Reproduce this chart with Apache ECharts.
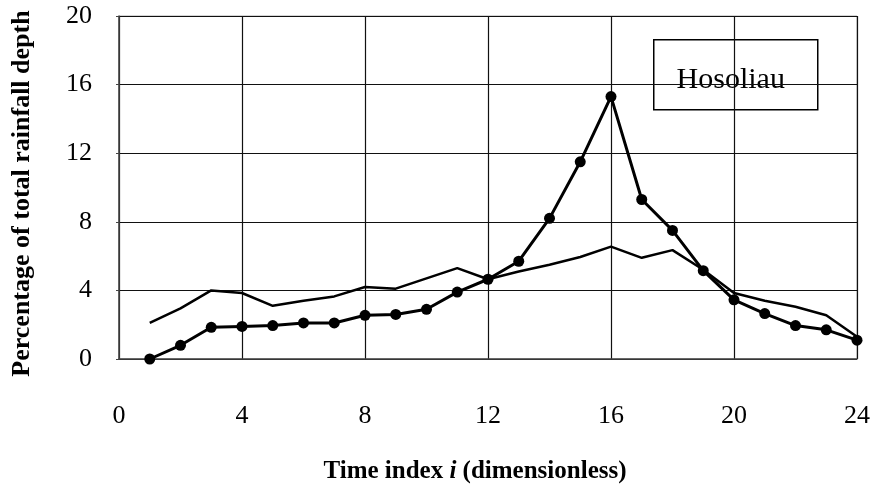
<!DOCTYPE html>
<html>
<head>
<meta charset="utf-8">
<script src="https://cdn.jsdelivr.net/npm/echarts@6/dist/echarts.min.js"></script>
<style>
html, body { margin: 0; padding: 0; background: #fff; }
#main { width: 874px; height: 492px; }
</style>
</head>
<body>
<div id="main"></div>
<script>
// time index i
var timeIndex = [1, 2, 3, 4, 5, 6, 7, 8, 9, 10, 11, 12, 13, 14, 15, 16, 17, 18, 19, 20, 21, 22, 23, 24];
// percentage of total rainfall depth, curve with dots
var dotValues = [0.0, 0.8, 1.85, 1.9, 1.95, 2.1, 2.1, 2.55, 2.6, 2.9, 3.9, 4.65, 5.7, 8.2, 11.5, 15.3, 9.3, 7.5, 5.15, 3.45, 2.65, 1.95, 1.7, 1.1];
// plain curve
var lineValues = [2.1, 2.95, 4.0, 3.85, 3.1, 3.4, 3.65, 4.2, 4.1, 4.7, 5.3, 4.65, 5.1, 5.5, 5.95, 6.55, 5.9, 6.35, 5.2, 3.85, 3.4, 3.05, 2.55, 1.3];
var xTicks = [0, 4, 8, 12, 16, 20, 24];
var yTicks = [0, 4, 8, 12, 16, 20];

function pairs(vals) {
	var out = [];
	for (var k = 0; k < timeIndex.length; k++) {
		out.push([timeIndex[k], vals[k]]);
	}
	return out;
}

var dom = document.getElementById("main");
var myChart = echarts.init(dom);
var serif = '"Liberation Serif", "Times New Roman", serif';

var option = {
	animation: false,
	backgroundColor: '#fff',
	grid: {
		left: 119,
		top: 16,
		right: 17,
		bottom: 133,
		show: true,
		borderColor: '#aaa',
		borderWidth: 1
	},
	xAxis: {
		type: 'value',
		min: xTicks[0],
		max: xTicks[xTicks.length - 1],
		interval: 4,
		name: 'Time index {it|i} (dimensionless)',
		nameLocation: 'middle',
		nameGap: 100,
		nameTextStyle: {
			fontFamily: serif,
			fontWeight: 'bold',
			fontSize: 25,
			color: '#000',
			padding: [0, 26, 0, 0],
			rich: {
				it: { fontFamily: serif, fontWeight: 'bold', fontStyle: 'italic', fontSize: 25, color: '#000' }
			}
		},
		axisLine: { show: true, lineStyle: { color: '#444', width: 1.5 } },
		axisTick: { show: false },
		axisLabel: { margin: 44, fontFamily: serif, fontSize: 26, color: '#000' },
		splitLine: { show: true, lineStyle: { color: '#111', width: 1.2 } }
	},
	yAxis: {
		type: 'value',
		min: yTicks[0],
		max: yTicks[yTicks.length - 1],
		interval: 4,
		name: 'Percentage of total rainfall depth',
		nameLocation: 'middle',
		nameGap: 84,
		nameTextStyle: {
			fontFamily: serif,
			fontWeight: 'bold',
			fontSize: 26,
			color: '#000',
			padding: [0, 12, 0, 0]
		},
		axisLine: { show: true, lineStyle: { color: '#444', width: 1.5 } },
		axisTick: { show: true, length: 3, lineStyle: { color: '#444' } },
		axisLabel: { margin: 27, fontFamily: serif, fontSize: 26, color: '#000' },
		splitLine: { show: true, lineStyle: { color: '#111', width: 1.2 } }
	},
	graphic: [{
		type: 'group',
		left: 653,
		top: 39,
		children: [{
			type: 'rect',
			shape: { x: 0, y: 0, width: 164, height: 70 },
			style: { fill: '#fff', stroke: '#000', lineWidth: 1.5 }
		}, {
			type: 'text',
			x: 77,
			y: 40,
			style: {
				text: 'Hosoliau',
				fontFamily: serif,
				fontSize: 30,
				fill: '#000',
				align: 'center',
				verticalAlign: 'middle'
			}
		}]
	}],
	series: [{
		name: 'plain',
		type: 'line',
		data: pairs(lineValues),
		showSymbol: false,
		symbol: 'none',
		lineStyle: { color: '#000', width: 2.5 },
		z: 3
	}, {
		name: 'dots',
		type: 'line',
		data: pairs(dotValues),
		symbol: 'circle',
		symbolSize: 11,
		itemStyle: { color: '#000' },
		lineStyle: { color: '#000', width: 3 },
		z: 4
	}]
};
myChart.setOption(option, true);
</script>
</body>
</html>
